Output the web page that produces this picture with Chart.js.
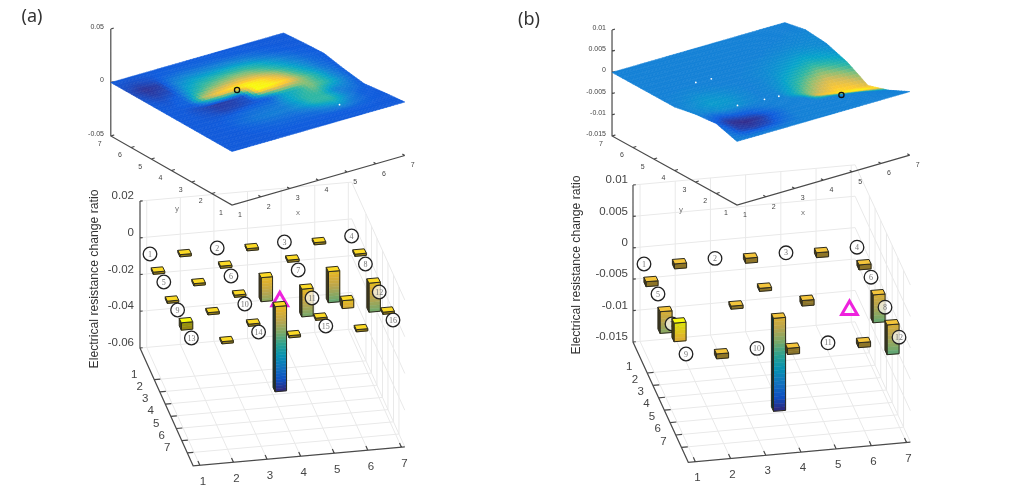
<!DOCTYPE html>
<html>
<head>
<meta charset="utf-8">
<title>Electrical resistance change ratio</title>
<script src="https://cdn.jsdelivr.net/npm/chart.js@4"></script>
<style>
  html, body { margin: 0; background: #fff; }
  canvas { display: block; filter: blur(0.4px); }
</style>
</head>
<body>
<canvas id="canvas" width="1032" height="500"></canvas>
<script>
const axisTicks = [1, 2, 3, 4, 5, 6, 7];
const topZTicksA = [-0.05, 0, 0.05];
const topZTicksB = [-0.015, -0.01, -0.005, 0, 0.005, 0.01];
const barZTicksA = [-0.06, -0.04, -0.02, 0, 0.02];
const barZTicksB = [-0.015, -0.01, -0.005, 0, 0.005, 0.01];

// surface height, 1e-3 units, rows y = 7 down to 1, columns x = 1 to 7
const surfaceHeightA = [
  [0, 0, 0, 0, 0, 0, 0],
  [0, 0, 0, 0.5, 1, 1, 1.5],
  [0, 0, 1, 2, 2, 2, 2.5],
  [0, 0, 0, 1.5, 3, 1, -1.5],
  [0, 0, 0, -1, -2, -2, -4.5],
  [0, 0, 0, 0, 0, -1, -2],
  [0, 0, 0, 0, 0, 0, 0],
];
const surfaceHeightB = [
  [0, 0, 0, 0, 0, 0, 0],
  [0, 0, 0, 0, 0, 0.5, 1],
  [0, 0, 0, 0, 0, 0, 0.5],
  [0, 0, 0, 0, -1, -1, -1.2],
  [1, 0, 0, -0.5, -2, -3.5, -4],
  [1.5, 0, 0, 0, 0, -1, -2.4],
  [0, 0, 0, 0, 0, 0, 0],
];
// surface colour level 0-100, rows y = 7 to 1 by 0.5, columns x = 1 to 7 by 0.5
const surfaceLevelA = [
  [12, 12, 12, 12, 12, 12, 12, 12, 12, 12, 12, 12, 12],
  [10, 8, 10, 14, 16, 16, 16, 15, 14, 13, 12, 12, 12],
  [8, 2, 5, 24, 30, 30, 30, 30, 26, 20, 14, 12, 12],
  [10, 5, 8, 32, 44, 48, 50, 50, 44, 32, 22, 14, 12],
  [12, 10, 14, 44, 58, 66, 70, 68, 56, 42, 28, 17, 12],
  [12, 12, 16, 70, 88, 96, 100, 94, 76, 54, 36, 20, 12],
  [12, 12, 8, 4, 5, 10, 100, 100, 92, 64, 46, 26, 13],
  [12, 12, 10, 6, 7, 10, 13, 38, 45, 62, 50, 30, 13],
  [12, 12, 12, 14, 18, 20, 22, 35, 50, 50, 25, 22, 12],
  [12, 12, 13, 18, 22, 24, 24, 32, 48, 50, 28, 14, 12],
  [12, 12, 12, 14, 16, 17, 17, 20, 28, 34, 20, 13, 12],
  [12, 12, 12, 12, 13, 13, 13, 13, 13, 13, 13, 12, 12],
  [12, 12, 12, 12, 12, 12, 12, 12, 12, 12, 12, 12, 12],
];
const surfaceLevelB = [
  [25, 25, 25, 25, 25, 25, 25, 25, 25, 25, 25, 25, 25],
  [25, 25, 25, 25, 25, 25, 25, 25, 25, 25, 25, 25, 25],
  [25, 25, 25, 25, 25, 25, 25, 25, 25, 25, 25, 26, 26],
  [25, 25, 25, 25, 25, 25, 25, 25, 25, 26, 27, 27, 28],
  [25, 25, 25, 25, 25, 25, 25, 26, 28, 30, 32, 30, 27],
  [25, 26, 27, 26, 25, 25, 26, 28, 32, 37, 42, 38, 33],
  [25, 28, 32, 30, 27, 25, 26, 30, 40, 50, 58, 52, 44],
  [26, 30, 35, 33, 28, 25, 27, 35, 52, 68, 78, 72, 62],
  [26, 28, 30, 30, 27, 25, 26, 42, 65, 80, 92, 90, 80],
  [22, 12, 12, 15, 22, 25, 25, 25, 85, 95, 100, 100, 95],
  [14, 2, 0, 4, 14, 24, 25, 25, 25, 25, 25, 25, 25],
  [22, 6, 5, 8, 18, 25, 25, 25, 25, 25, 25, 25, 25],
  [25, 25, 25, 25, 25, 25, 25, 25, 25, 25, 25, 25, 25],
];

const barXA = [2, 4, 6, 1, 3, 5, 7, 2, 4, 6, 1, 3, 5, 7, 2, 4, 6, 1, 3, 5, 7, 2, 4, 6];
const barYA = [1, 1, 1, 2, 2, 2, 2, 3, 3, 3, 4, 4, 4, 4, 5, 5, 5, 6, 6, 6, 6, 7, 7, 7];
const barValueA = [-0.0012, -0.0012, -0.0012, -0.0012, -0.0012, -0.0012, -0.0012, -0.0012, -0.013, -0.0168,
  -0.0012, -0.0012, -0.015, -0.0157, -0.0012, -0.046, -0.0043, 0.004, -0.0012, -0.0012, -0.0012, -0.0012, -0.0012, -0.0012];
const barXB = [2, 4, 6, 1, 7, 4, 1, 3, 5, 7, 4, 1, 7, 2, 4, 6];
const barYB = [1, 1, 1, 2, 2, 3, 4, 4, 4, 4, 5, 6, 6, 7, 7, 7];
const barValueB = [-0.0008, -0.0008, -0.0008, -0.0008, -0.0008, -0.0005, -0.0035, -0.0005, -0.0009, -0.0045,
  -0.015, 0.003, -0.0048, -0.0008, -0.001, -0.0008];

const electrodeXA = [1, 3, 5, 7, 1, 3, 5, 7, 1, 3, 5, 7, 1, 3, 5, 7];
const electrodeYA = [1, 1, 1, 1, 3, 3, 3, 3, 5, 5, 5, 5, 7, 7, 7, 7];
const electrodeXB = [1, 3, 5, 7, 1, 7, 1, 7, 1, 3, 5, 7];
const electrodeYB = [1, 1, 1, 1, 3, 3, 5, 5, 7, 7, 7, 7];

const peakA = [3.56, 4.4];
const peakB = [5.4, 2.07];
const speckXA = [5.4];
const speckYA = [1.95];
const speckXB = [2.5, 3, 2.5, 3.4, 3.9];
const speckYB = [5.05, 5, 3.05, 3, 3];
const triangleA = [4, 5, 0.0015];
const triangleB = [6, 5, 0];

const PARULA = [[53, 42, 135], [15, 92, 221], [20, 129, 214], [6, 164, 202], [46, 183, 164],
  [135, 191, 119], [209, 187, 89], [254, 200, 50], [249, 251, 14]];
const GRID = "#e9e9e9";
const AXIS = "#4a4a4a";
const INK = "#444";
const MAGENTA = "#ee22dd";

const parula = (t) => {
  const p = Math.min(Math.max(t, 0), 1) * (PARULA.length - 1);
  const i = Math.min(Math.floor(p), PARULA.length - 2);
  const f = p - i;
  return PARULA[i].map((c, k) => c + (PARULA[i + 1][k] - c) * f);
};
const rgb = (c, dim = 1) => `rgb(${c.map((v) => Math.round(v * dim)).join(",")})`;

// oblique view: org is where (x0, y0, z0) lands, each u* is a step along one axis
const makeView = (org, ux, uy, uz, x0, y0, z0) => (x, y, z) => ({
  x: org[0] + ux[0] * (x - x0) + uy[0] * (y - y0),
  y: org[1] + ux[1] * (x - x0) + uy[1] * (y - y0) + uz * (z - z0),
});

const panels = [
  {
    top: makeView([232, 205], [28.8, -8.25], [-20.2, -11.5], -1070, 1, 1, -0.05),
    topZ: [-0.05, 0.05], topZTicks: topZTicksA,
    height: surfaceHeightA, level: surfaceLevelA,
    frame: makeView([140, 348], [33.6, -3], [5.5, 12.2], -1837, 0.8, -1.6, -0.06),
    limits: [0.8, 7.1, -1.6, 8.06, -0.06, 0.02], barZTicks: barZTicksA,
    bars: makeView([151, 255], [33.6, -3], [7, 14.5], -1850, 1, 1, 0),
    electrodes: makeView([150, 254], [33.6, -3], [6.9, 14], -1850, 1, 1, 0),
    barX: barXA, barY: barYA, barValue: barValueA, barRange: [-0.046, 0.004],
    electrodeX: electrodeXA, electrodeY: electrodeYA,
    peak: peakA, speckX: speckXA, speckY: speckYA, triangle: triangleA,
    topZLabelX: 104, barZLabelX: 134, yTickOffset: [-20, -5], xTickOffset: [3, 17],
    titleX: 95, titleY: 279, panelLabel: "(a)", panelLabelX: 32, panelLabelY: 17,
    yNameAt: [177, 209], xNameAt: [298, 213],
  },
  {
    top: makeView([737, 205], [28.8, -8.3], [-20.83, -11.5], -4240, 1, 1, -0.015),
    topZ: [-0.015, 0.01], topZTicks: topZTicksB,
    height: surfaceHeightB, level: surfaceLevelB,
    frame: makeView([633, 342], [35.2, -3.2], [5.7, 12.4], -6280, 0.8, -1.5, -0.015),
    limits: [0.8, 7.11, -1.5, 8.2, -0.015, 0.01], barZTicks: barZTicksB,
    bars: makeView([644, 264], [35.5, -2.8], [7, 15], -6200, 1, 1, 0),
    electrodes: makeView([644, 264], [35.5, -2.8], [7, 15], -6200, 1, 1, 0),
    barX: barXB, barY: barYB, barValue: barValueB, barRange: [-0.015, 0.0027],
    electrodeX: electrodeXB, electrodeY: electrodeYB,
    peak: peakB, speckX: speckXB, speckY: speckYB, triangle: triangleB,
    topZLabelX: 606, barZLabelX: 628, yTickOffset: [-18, -6], xTickOffset: [2, 16],
    titleX: 577, titleY: 265, panelLabel: "(b)", panelLabelX: 529, panelLabelY: 20,
    yNameAt: [681, 210], xNameAt: [803, 213],
  },
];

// line datasets: polylines joined with NaN gaps
const joinLines = (lines) => {
  const pts = [];
  lines.forEach((l) => { pts.push(...l, { x: NaN, y: NaN }); });
  return pts;
};

const wallLines = (p) => {
  const [x0, x1, y0, y1, z0, z1] = p.limits;
  const f = p.frame;
  const lines = [];
  axisTicks.forEach((t) => {
    lines.push([f(t, y0, z0), f(t, y1, z0)]);
    lines.push([f(x0, t, z0), f(x1, t, z0)]);
    lines.push([f(t, y0, z0), f(t, y0, z1)]);
    lines.push([f(x1, t, z0), f(x1, t, z1)]);
  });
  p.barZTicks.forEach((z) => {
    lines.push([f(x0, y0, z), f(x1, y0, z), f(x1, y1, z)]);
  });
  return joinLines(lines);
};

const axisLines = (p) => {
  const [x0, x1, y0, y1, z0, z1] = p.limits;
  const f = p.frame;
  const t = p.top;
  const lines = [
    [f(x0, y0, z1), f(x0, y0, z0), f(x0, y1, z0), f(x1, y1, z0)],
    [t(1, 7, p.topZ[1]), t(1, 7, p.topZ[0]), t(1, 1, p.topZ[0]), t(7, 1, p.topZ[0])],
  ];
  axisTicks.forEach((k) => {
    lines.push([f(k, y1, z0), f(k, y1 - 0.35, z0)]);
    lines.push([f(x0, k, z0), f(x0 + 0.18, k, z0)]);
    lines.push([t(k, 1, p.topZ[0]), t(k, 1.12, p.topZ[0])]);
    lines.push([t(1, k, p.topZ[0]), t(1.12, k, p.topZ[0])]);
  });
  p.barZTicks.forEach((z) => lines.push([f(x0, y0, z), f(x0 + 0.08, y0, z)]));
  p.topZTicks.forEach((z) => lines.push([t(1, 7, z), t(1.1, 7, z)]));
  return joinLines(lines);
};

const heightAt = (p, x, y) => {
  const r = 7 - y;
  const c = x - 1;
  const r0 = Math.min(Math.floor(r), 5);
  const c0 = Math.min(Math.floor(c), 5);
  const fr = r - r0;
  const fc = c - c0;
  const h = p.height;
  const v = h[r0][c0] * (1 - fr) * (1 - fc) + h[r0][c0 + 1] * (1 - fr) * fc +
    h[r0 + 1][c0] * fr * (1 - fc) + h[r0 + 1][c0 + 1] * fr * fc;
  return v / 1000;
};

const levelAt = (p, x, y) => {
  const r = (7 - y) * 2;
  const c = (x - 1) * 2;
  const r0 = Math.min(Math.floor(r), 11);
  const c0 = Math.min(Math.floor(c), 11);
  const fr = r - r0;
  const fc = c - c0;
  const l = p.level;
  return l[r0][c0] * (1 - fr) * (1 - fc) + l[r0][c0 + 1] * (1 - fr) * fc +
    l[r0 + 1][c0] * fr * (1 - fc) + l[r0 + 1][c0 + 1] * fr * fc;
};

const polygon = (ctx, pts, fill, stroke, width = 1) => {
  ctx.beginPath();
  pts.forEach((q, i) => (i ? ctx.lineTo(q.x, q.y) : ctx.moveTo(q.x, q.y)));
  ctx.closePath();
  if (fill) { ctx.fillStyle = fill; ctx.fill(); }
  if (stroke) { ctx.strokeStyle = stroke; ctx.lineWidth = width; ctx.stroke(); }
};

const drawSurface = (chart, p) => {
  const { ctx, scales } = chart;
  const px = (q) => ({ x: scales.x.getPixelForValue(q.x), y: scales.y.getPixelForValue(q.y) });
  const at = (x, y) => px(p.top(x, y, heightAt(p, x, y)));
  const step = 0.125;
  ctx.save();
  for (let y = 7; y > 1 + 1e-6; y -= step) {
    for (let x = 1; x < 7 - 1e-6; x += step) {
      const c = rgb(parula(levelAt(p, x + step / 2, y - step / 2) / 100));
      polygon(ctx, [at(x, y), at(x + step, y), at(x + step, y - step), at(x, y - step)], c, c, 0.6);
    }
  }
  ctx.restore();
};

const drawBar = (ctx, p, px, x, y, value) => {
  const hx = 0.17;
  const hy = 0.15;
  const hi = Math.max(0, value);
  const lo = Math.min(0, value);
  const tone = (z) => parula((z - p.barRange[0]) / (p.barRange[1] - p.barRange[0]));
  const at = (sx, sy, z) => px(p.bars(x + sx * hx, y + sy * hy, z));
  polygon(ctx, [at(-1, -1, hi), at(-1, 1, hi), at(-1, 1, lo), at(-1, -1, lo)], rgb(tone((hi + lo) / 2), 0.3));
  const slices = Math.max(1, Math.round((hi - lo) / ((p.barRange[1] - p.barRange[0]) / 30)));
  const shade = slices < 3 ? 0.6 : 0.88;
  for (let i = 0; i < slices; i++) {
    const a = hi - ((hi - lo) * i) / slices;
    const b = hi - ((hi - lo) * (i + 1)) / slices;
    const c = rgb(tone((a + b) / 2), shade);
    polygon(ctx, [at(-1, 1, a), at(1, 1, a), at(1, 1, b), at(-1, 1, b)], c, c, 0.5);
  }
  polygon(ctx, [at(-1, 1, hi), at(1, 1, hi), at(1, 1, lo), at(-1, 1, lo)], null, "#2c2a1e", 1);
  polygon(ctx, [at(-1, -1, hi), at(-1, 1, hi), at(-1, 1, lo), at(-1, -1, lo)], null, "#2c2a1e", 1);
  polygon(ctx, [at(-1, -1, hi), at(1, -1, hi), at(1, 1, hi), at(-1, 1, hi)], rgb(tone(hi)), "#2c2a1e", 1);
};

const drawElectrode = (ctx, p, px, x, y, text) => {
  const q = px(p.electrodes(x, y, 0));
  ctx.beginPath();
  ctx.arc(q.x, q.y, 6.8, 0, Math.PI * 2);
  ctx.fillStyle = "rgba(255,255,255,0.7)";
  ctx.fill();
  ctx.strokeStyle = "#222";
  ctx.lineWidth = 1.3;
  ctx.stroke();
  ctx.fillStyle = "#777";
  ctx.font = "8px 'Liberation Serif'";
  ctx.textAlign = "center";
  ctx.textBaseline = "middle";
  ctx.fillText(text, q.x, q.y + 0.5);
};

const drawBars = (chart, p) => {
  const { ctx, scales } = chart;
  const px = (q) => ({ x: scales.x.getPixelForValue(q.x), y: scales.y.getPixelForValue(q.y) });
  const items = [];
  p.barX.forEach((x, i) => items.push({ x, y: p.barY[i], value: p.barValue[i] }));
  p.electrodeX.forEach((x, i) => items.push({ x, y: p.electrodeY[i], text: String(i + 1) }));
  items.sort((a, b) => a.y - b.y || b.x - a.x);
  ctx.save();
  items.forEach((it) => {
    if (it.text) drawElectrode(ctx, p, px, it.x, it.y, it.text);
    else drawBar(ctx, p, px, it.x, it.y, it.value);
  });
  ctx.restore();
};

const drawLabel = (ctx, text, x, y, font, color, align = "center") => {
  ctx.font = font;
  ctx.fillStyle = color;
  ctx.textAlign = align;
  ctx.textBaseline = "middle";
  ctx.fillText(text, x, y);
};

const drawTexts = (chart) => {
  const { ctx, scales } = chart;
  const px = (q) => ({ x: scales.x.getPixelForValue(q.x), y: scales.y.getPixelForValue(q.y) });
  ctx.save();
  panels.forEach((p) => {
    const [x0, , , y1, z0] = p.limits;
    const small = "7px 'Liberation Sans'";
    const tick = "11.5px 'Liberation Sans'";
    axisTicks.forEach((k) => {
      let q = px(p.top(k, 1, p.topZ[0]));
      drawLabel(ctx, String(k), q.x + 8, q.y + 10, small, INK);
      q = px(p.top(1, k, p.topZ[0]));
      drawLabel(ctx, String(k), q.x - 11, q.y + 8, small, INK);
      q = px(p.frame(k, y1, z0));
      drawLabel(ctx, String(k), q.x + p.xTickOffset[0], q.y + p.xTickOffset[1], tick, INK);
      q = px(p.frame(x0, k, z0));
      drawLabel(ctx, String(k), q.x + p.yTickOffset[0], q.y + p.yTickOffset[1], tick, INK);
    });
    p.topZTicks.forEach((z) => {
      const q = px(p.top(1, 7, z));
      drawLabel(ctx, String(z), p.topZLabelX, q.y - 2, small, INK, "right");
    });
    p.barZTicks.forEach((z) => {
      const q = px(p.frame(p.limits[0], p.limits[2], z));
      drawLabel(ctx, String(z), p.barZLabelX, q.y - 5, tick, INK, "right");
    });
    drawLabel(ctx, "y", p.yNameAt[0], p.yNameAt[1], "8px 'Liberation Sans'", "#777");
    drawLabel(ctx, "x", p.xNameAt[0], p.xNameAt[1], "8px 'Liberation Sans'", "#777");
    drawLabel(ctx, p.panelLabel, p.panelLabelX, p.panelLabelY, "18px 'Noto Sans'", "#333");
    ctx.save();
    ctx.translate(p.titleX, p.titleY);
    ctx.rotate(-Math.PI / 2);
    drawLabel(ctx, "Electrical resistance change ratio", 0, 0, "12.2px 'Liberation Sans'", "#333");
    ctx.restore();
  });
  ctx.restore();
};

const layers = {
  id: "layers",
  afterDatasetDraw(chart, args) {
    const tag = chart.data.datasets[args.index].tag;
    if (tag === "axes") panels.forEach((p) => drawSurface(chart, p));
    if (tag === "triangles") panels.forEach((p) => drawBars(chart, p));
  },
  afterDatasetsDraw(chart) {
    drawTexts(chart);
  },
};

const datasets = [
  {
    tag: "walls", order: 6, showLine: true, pointRadius: 0, borderColor: GRID, borderWidth: 1,
    data: panels.flatMap(wallLines),
  },
  {
    tag: "axes", order: 5, showLine: true, pointRadius: 0, borderColor: AXIS, borderWidth: 1.2,
    data: panels.flatMap(axisLines),
  },
  {
    tag: "specks", order: 3, pointRadius: 0.9, borderWidth: 0, backgroundColor: "#fff",
    data: panels.flatMap((p) => p.speckX.map((x, i) => p.top(x, p.speckY[i], heightAt(p, x, p.speckY[i])))),
  },
  {
    tag: "peaks", order: 2, pointRadius: 2.6, borderWidth: 1.3, borderColor: "#111", backgroundColor: "rgba(0,0,0,0)",
    data: panels.map((p) => p.top(p.peak[0], p.peak[1], heightAt(p, p.peak[0], p.peak[1]))),
  },
  {
    tag: "triangles", order: 1, pointStyle: "triangle", pointRadius: 9, borderWidth: 3,
    borderColor: MAGENTA, backgroundColor: "rgba(0,0,0,0)",
    data: panels.map((p) => p.bars(p.triangle[0], p.triangle[1], p.triangle[2])),
  },
];

new Chart(document.getElementById("canvas"), {
  type: "scatter",
  data: { datasets },
  options: {
    responsive: false,
    animation: false,
    layout: { padding: 0, autoPadding: false },
    plugins: { legend: { display: false }, tooltip: { enabled: false } },
    scales: {
      x: { type: "linear", display: false, min: 0, max: 1032 },
      y: { type: "linear", display: false, min: 0, max: 500, reverse: true },
    },
  },
  plugins: [layers],
});
</script>
</body>
</html>
